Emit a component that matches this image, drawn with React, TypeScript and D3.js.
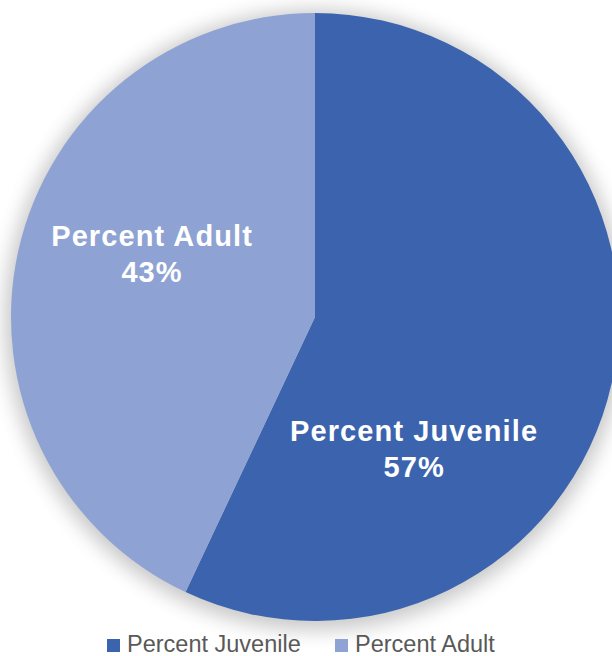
import React from "react";
import * as d3 from "d3";

// chart data
const categories = ["Percent Juvenile", "Percent Adult"];
const values = [57, 43];
const colors = ["#3C64AE", "#8EA3D3"];

const W = 612;
const H = 656;

const App: React.FC = () => {
  const cx = 315;
  const cy = 317;
  const r = 304;

  const pie = d3.pie<number>().sort(null).value((d) => d);
  const arcs = pie(values);
  const arc = d3.arc<d3.PieArcDatum<number>>().innerRadius(0).outerRadius(r);

  // where Excel's best-fit put the labels, as fractions of the radius
  const labelPos = [
    { x: 0.326, y: 0.408 },
    { x: -0.536, y: -0.234 },
  ];

  const total = d3.sum(values);
  const pct = d3.format(".0%");

  // legend layout
  const legendY = 652;
  const sw = 13;
  const legendFont = 23.5;
  const itemW = [228, 158];
  const legendW = d3.sum(itemW);
  let lx = 300 - legendW / 2;

  return (
    <svg
      width={W}
      height={H}
      style={{ position: "absolute", left: 0, top: 0, background: "#fff" }}
      fontFamily="'Liberation Sans', Arial, sans-serif"
    >
      <defs>
        <filter id="glow" x="-20%" y="-20%" width="140%" height="140%">
          <feGaussianBlur stdDeviation="10" />
        </filter>
      </defs>
      <circle cx={cx} cy={cy + 3} r={r + 6} fill="#000" opacity={0.22} filter="url(#glow)" />
      <g transform={`translate(${cx},${cy})`}>
        {arcs.map((a, i) => (
          <path key={i} d={arc(a) || ""} fill={colors[i]} />
        ))}
        {arcs.map((a, i) => (
          <text
            key={"l" + i}
            x={labelPos[i].x * r}
            y={labelPos[i].y * r}
            textAnchor="middle"
            fill="#fff"
            fontWeight="bold"
            fontSize={29}
            letterSpacing={1.1}
          >
            <tspan x={labelPos[i].x * r}>{categories[i]}</tspan>
            <tspan x={labelPos[i].x * r} dy={36}>
              {pct(a.data / total)}
            </tspan>
          </text>
        ))}
      </g>
      <g>
        {categories.map((c, i) => {
          const x = lx;
          lx += itemW[i];
          return (
            <g key={c}>
              <rect x={x} y={legendY - 13} width={sw} height={sw} fill={colors[i]} />
              <text x={x + sw + 7} y={legendY} fontSize={legendFont} fill="#595959">
                {c}
              </text>
            </g>
          );
        })}
      </g>
    </svg>
  );
};

export default App;
